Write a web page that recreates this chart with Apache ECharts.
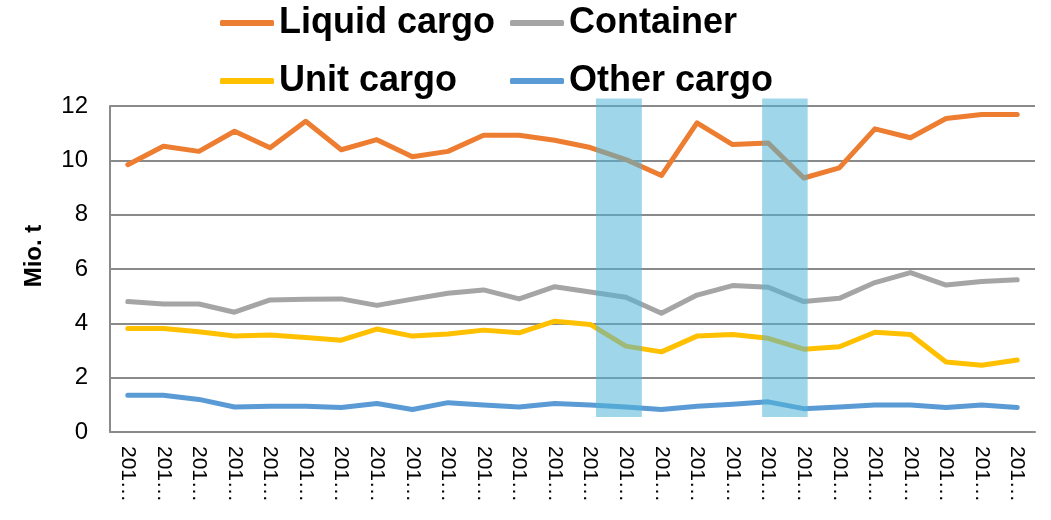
<!DOCTYPE html>
<html>
<head>
<meta charset="utf-8">
<script src="https://cdn.jsdelivr.net/npm/echarts@6/dist/echarts.min.js"></script>
<style>
html,body{margin:0;padding:0;background:#fff;}
#chart{width:1051px;height:520px;}
</style>
</head>
<body>
<div id="chart"></div>
<script>
const categories = ["2013 Q1","2013 Q2","2013 Q3","2013 Q4","2014 Q1","2014 Q2","2014 Q3","2014 Q4",
  "2015 Q1","2015 Q2","2015 Q3","2015 Q4","2016 Q1","2016 Q2","2016 Q3","2016 Q4",
  "2017 Q1","2017 Q2","2017 Q3","2017 Q4","2018 Q1","2018 Q2","2018 Q3","2018 Q4","2019 Q1","2019 Q2"];
const liquidCargo = [9.84,10.52,10.33,11.07,10.46,11.44,10.39,10.76,10.13,10.33,10.92,10.92,10.74,10.47,10.03,9.44,11.38,10.58,10.64,9.35,9.72,11.16,10.83,11.54,11.69,11.69];
const container   = [4.80,4.71,4.71,4.41,4.86,4.89,4.90,4.66,4.89,5.11,5.23,4.90,5.35,5.15,4.96,4.37,5.04,5.39,5.33,4.80,4.92,5.50,5.87,5.41,5.54,5.60];
const unitCargo   = [3.81,3.81,3.69,3.53,3.57,3.48,3.38,3.79,3.53,3.61,3.75,3.65,4.08,3.96,3.16,2.95,3.53,3.59,3.45,3.05,3.14,3.67,3.59,2.58,2.46,2.65];
const otherCargo  = [1.35,1.35,1.20,0.92,0.95,0.95,0.90,1.05,0.83,1.08,0.99,0.92,1.05,0.99,0.92,0.83,0.95,1.02,1.11,0.86,0.92,0.99,0.99,0.90,0.99,0.90];
// shaded periods, in category-width units from the left edge of the plot
const bandStart = [13.66, 18.33];
const bandEnd   = [14.95, 19.61];
const bandBottom = 0.55;
const bandTop = 12.28;
const yTicks = {min: 0, max: 12, interval: 2};

const seriesNames = ["Liquid cargo","Container","Unit cargo","Other cargo"];
const seriesData = [liquidCargo, container, unitCargo, otherCargo];
const colors = ["#ED7D31","#A5A5A5","#FFC000","#5B9BD5"];

const chart = echarts.init(document.getElementById('chart'), null, {renderer:'canvas'});
const legendText = {fontFamily:'Liberation Sans, Arial, sans-serif', fontSize:36, fontWeight:'bold', color:'#000', lineHeight:40};
const legendCommon = {orient:'vertical', top:3, itemWidth:54, itemHeight:6, icon:'roundRect', itemGap:18, textStyle:legendText, padding:0, selectedMode:false};

const option = {
  animation:false,
  color: colors,
  legend: [
    Object.assign({left:220, data:["Liquid cargo","Unit cargo"]}, legendCommon),
    Object.assign({left:510, data:["Container","Other cargo"]}, legendCommon)
  ],
  grid:{left:110, right:16, top:106, bottom:88, containLabel:false},
  xAxis:[
    {type:'category', data:categories, boundaryGap:true,
     axisLine:{show:true, lineStyle:{color:'#8a8a8a', width:2}},
     axisTick:{show:false},
     axisLabel:{interval:0, rotate:-90, margin:14, width:60, overflow:'truncate', ellipsis:'…',
       fontFamily:'Liberation Sans, Arial, sans-serif', fontSize:21, color:'#000'}},
    {type:'value', min:0, max:26, show:false}
  ],
  yAxis:{type:'value', min:yTicks.min, max:yTicks.max, interval:yTicks.interval,
    name:'Mio. t', nameLocation:'middle', nameGap:64, nameRotate:90,
    nameTextStyle:{fontFamily:'Liberation Sans, Arial, sans-serif', fontSize:24, fontWeight:'bold', color:'#000', padding:[0,0,0,26]},
    axisLine:{show:true, lineStyle:{color:'#8a8a8a', width:2}},
    axisTick:{show:false},
    splitLine:{show:true, lineStyle:{color:'#8a8a8a', width:2}},
    axisLabel:{margin:22, fontFamily:'Liberation Sans, Arial, sans-serif', fontSize:24, color:'#000'}},
  series: seriesNames.map((n,i)=>({
    name:n, type:'line', data:seriesData[i], symbol:'none', smooth:false,
    lineStyle:{width:5, color:colors[i], cap:'round', join:'round'},
    itemStyle:{color:colors[i]}, z:2
  })).concat([{
    type:'custom', xAxisIndex:1, yAxisIndex:0, z:5, silent:true,
    data: bandStart.map((s,i)=>[s, bandEnd[i], bandBottom, bandTop]),
    encode:{x:[0,1], y:[2,3]},
    renderItem:function(params, api){
      const p0 = api.coord([api.value(0), api.value(3)]);
      const p1 = api.coord([api.value(1), api.value(2)]);
      return {type:'rect', shape:{x:p0[0], y:p0[1], width:p1[0]-p0[0], height:p1[1]-p0[1]},
        style:{fill:'rgba(80,180,215,0.55)'}};
    }
  }])
};
chart.setOption(option);
</script>
</body>
</html>
